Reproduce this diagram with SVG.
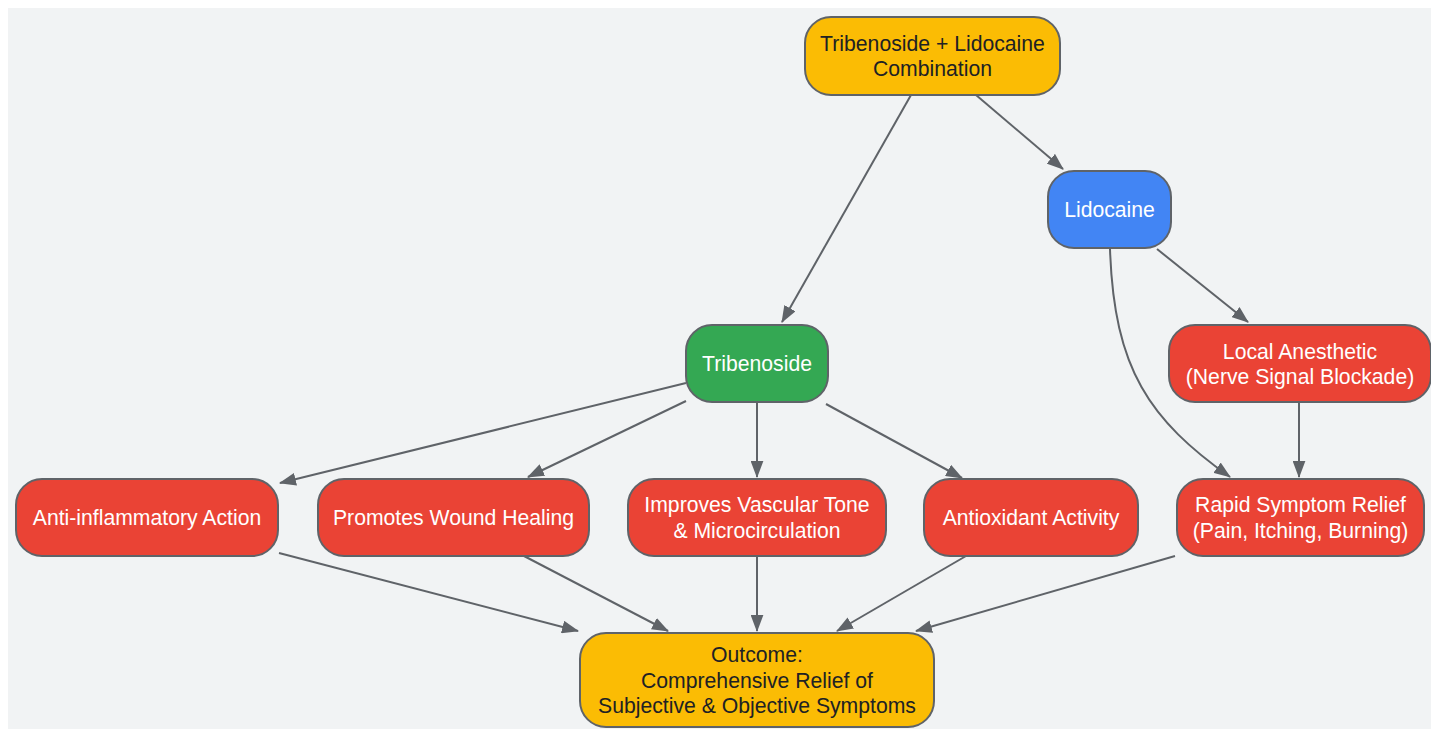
<svg xmlns="http://www.w3.org/2000/svg" width="1431" height="729" viewBox="0 0 1431 729">
<style>
.n{stroke:#5f6368;stroke-width:2}
.y{fill:#fbbc04}.b{fill:#4285f4}.g{fill:#34a853}.r{fill:#ea4335}
text{font-family:"Liberation Sans",Arial,sans-serif;font-size:21.2px;text-anchor:middle}
.d{fill:#202124}.w{fill:#ffffff}
.e path{fill:none;stroke:#5f6368;stroke-width:2;marker-end:url(#a)}
</style>
<defs>
<marker id="a" viewBox="0 0 16 12" refX="15" refY="6" markerWidth="17" markerHeight="13" markerUnits="userSpaceOnUse" orient="auto">
<path d="M0,0 L16,6 L0,12 z" fill="#5f6368"/>
</marker>
</defs>
<rect x="8" y="8" width="1423" height="721" fill="#f1f3f4"/>
<g class="e">
<path d="M911,95 L782,322"/>
<path d="M976,95 L1063,169"/>
<path d="M1157,249 L1248,322"/>
<path d="M1110,249 C1114,370 1150,420 1230,477"/>
<path d="M1299,402 L1299,477"/>
<path d="M686,383 L280,483"/>
<path d="M686,401 L528,477"/>
<path d="M757,402 L757,477"/>
<path d="M826,404 L962,478"/>
<path d="M279,553 L578,631"/>
<path d="M524,556 L668,631"/>
<path d="M757,556 L757,631"/>
<path d="M966,556 L837,631"/>
<path d="M1175,556 L916,631"/>
</g>
<g id="combo"><rect class="n y" x="805" y="17" width="255" height="78" rx="26"/><text class="d" x="932.5" y="51">Tribenoside + Lidocaine</text><text class="d" x="932.5" y="76">Combination</text></g>
<g id="lidocaine"><rect class="n b" x="1048" y="171" width="123" height="77" rx="26"/><text class="w" x="1109.5" y="217">Lidocaine</text></g>
<g id="tribenoside"><rect class="n g" x="686" y="325" width="142" height="77" rx="26"/><text class="w" x="757" y="371">Tribenoside</text></g>
<g id="local"><rect class="n r" x="1169" y="325" width="262" height="77" rx="26"/><text class="w" x="1300" y="359">Local Anesthetic</text><text class="w" x="1300" y="384">(Nerve Signal Blockade)</text></g>
<g id="anti"><rect class="n r" x="16" y="479" width="262" height="77" rx="26"/><text class="w" x="147" y="525">Anti-inflammatory Action</text></g>
<g id="wound"><rect class="n r" x="318" y="479" width="271" height="77" rx="26"/><text class="w" x="453.5" y="525">Promotes Wound Healing</text></g>
<g id="vascular"><rect class="n r" x="628" y="479" width="258" height="77" rx="26"/><text class="w" x="757" y="512">Improves Vascular Tone</text><text class="w" x="757" y="538">&amp; Microcirculation</text></g>
<g id="antioxidant"><rect class="n r" x="924" y="479" width="214" height="77" rx="26"/><text class="w" x="1031" y="525">Antioxidant Activity</text></g>
<g id="rapid"><rect class="n r" x="1177" y="479" width="247" height="77" rx="26"/><text class="w" x="1300.5" y="512">Rapid Symptom Relief</text><text class="w" x="1300.5" y="538">(Pain, Itching, Burning)</text></g>
<g id="outcome"><rect class="n y" x="580" y="633" width="354" height="94" rx="26"/><text class="d" x="757" y="662">Outcome:</text><text class="d" x="757" y="688">Comprehensive Relief of</text><text class="d" x="757" y="713">Subjective &amp; Objective Symptoms</text></g>
</svg>
